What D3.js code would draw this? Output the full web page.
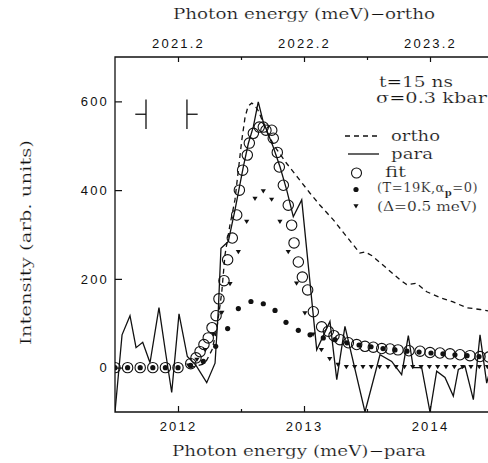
<!DOCTYPE html>
<html>
<head>
<meta charset="utf-8">
<script src="https://cdn.jsdelivr.net/npm/d3@7/dist/d3.min.js"></script>
<style>
  body { margin: 0; background: #fff; }
  svg { display: block; }
  .serif { font-family: 'DejaVu Serif', serif; stroke: #fff; stroke-width: 0.2px; }
</style>
</head>
<body>
<div id="container"></div>
<script>
/* DATA  (energy in meV on the para scale, intensity in arb. units) */
const para = [
  [2011.500,-100],[2011.556,74],[2011.619,117],[2011.667,45],[2011.720,57],[2011.778,11],
  [2011.849,135],[2011.902,33],[2011.950,-56],[2012.008,121],[2012.074,25],[2012.143,5],
  [2012.228,-34],[2012.294,10],[2012.320,130],[2012.341,269],[2012.399,284],[2012.452,355],
  [2012.518,452],[2012.558,505],[2012.598,543],[2012.637,599],[2012.677,553],[2012.704,535],
  [2012.756,497],[2012.810,452],[2012.863,400],[2012.915,340],[2012.982,378],[2013.101,40],
  [2013.206,104],[2013.260,-27],[2013.325,93],[2013.484,-100],[2013.603,29],[2013.696,14],
  [2013.775,-16],[2013.828,72],[2013.867,0],[2013.934,0],[2014.000,-100],[2014.053,-8],
  [2014.119,-22],[2014.185,-64],[2014.225,-4],[2014.278,3],[2014.344,-72],[2014.397,74],
  [2014.450,-35],[2014.500,20]
];

const ortho = [
  [2012.095,0],[2012.214,9],[2012.270,40],[2012.307,85],[2012.347,169],[2012.373,254],
  [2012.412,321],[2012.452,378],[2012.479,445],[2012.506,512],[2012.532,564],[2012.556,589],
  [2012.585,596],[2012.603,593],[2012.635,580],[2012.675,553],[2012.714,526],[2012.770,497],
  [2012.863,460],[2012.968,422],[2013.048,393],[2013.127,366],[2013.233,333],[2013.339,295],
  [2013.444,258],[2013.484,261],[2013.540,252],[2013.656,224],[2013.762,198],[2013.815,187],
  [2013.894,190],[2013.974,171],[2014.079,158],[2014.183,148],[2014.291,135],[2014.397,131],
  [2014.500,126]
];

const fit = [
  [2011.5,0],[2011.6,0],[2011.7,0],[2011.8,0],[2011.9,0],[2012.0,0],
  [2012.101,9],[2012.143,22],[2012.175,36],[2012.206,52],[2012.240,67],[2012.270,90],
  [2012.302,117],[2012.325,155],[2012.365,196],[2012.394,243],[2012.431,292],[2012.466,344],
  [2012.487,400],[2012.513,445],[2012.550,479],[2012.566,506],[2012.598,528],[2012.645,542],
  [2012.677,542],[2012.698,535],[2012.744,535],[2012.756,517],[2012.788,485],[2012.804,452],
  [2012.836,411],[2012.875,366],[2012.902,321],[2012.921,281],[2012.955,238],[2012.987,204],
  [2013.029,175],[2013.074,126],[2013.140,92],[2013.193,82],[2013.238,72],[2013.286,63],
  [2013.352,56],[2013.418,52],[2013.484,48],[2013.550,46],[2013.617,43],[2013.683,42],
  [2013.746,40],[2013.833,38],[2013.921,37],[2014.000,34],[2014.079,33],[2014.159,31],
  [2014.238,29],[2014.317,27],[2014.397,25],[2014.468,24]
];

const fitT19 = [
  [2011.5,0],[2011.6,0],[2011.7,0],[2011.8,0],[2011.9,0],[2012.0,0],[2012.1,5],
  [2012.201,14],[2012.299,48],[2012.394,88],[2012.479,133],[2012.579,149],[2012.677,144],
  [2012.770,129],[2012.857,102],[2012.955,84],[2013.048,74],[2013.153,67],[2013.246,63],
  [2013.341,56],[2013.437,51],[2013.532,47],[2013.627,43],[2013.722,40],[2013.817,37],
  [2013.913,35],[2014.008,33],[2014.103,31],[2014.198,29],[2014.294,27],[2014.389,25],
  [2014.484,24]
];

const fitDelta = [
  [2012.084,5],[2012.150,18],[2012.216,40],[2012.282,75],[2012.348,124],[2012.413,189],
  [2012.479,261],[2012.545,329],[2012.611,381],[2012.677,398],[2012.743,379],[2012.809,329],
  [2012.875,261],[2012.941,190],[2013.007,123],[2013.072,75],[2013.138,40],[2013.204,20],
  [2013.270,7],[2013.336,2],[2013.402,2],[2013.468,2],[2013.534,2],[2013.600,2],
  [2013.666,2],[2013.731,2],[2013.797,2],[2013.863,2],[2013.929,2],[2013.995,2],
  [2014.061,2],[2014.127,2],[2014.193,2],[2014.259,2],[2014.325,2],[2014.391,2],[2014.456,2]
];

// spectral resolution marks ( -|  and  |- )
const resMarks = [[2011.746, -1], [2012.071, 1]];
const resLevel = 571, resHalf = 33, resArm = 0.085;

const xTicksPara  = [2012, 2013, 2014];
const xMinorPara  = [2012.5, 2013.5];
const xTicksOrtho = [2021.2, 2022.2, 2023.2];
const xMinorOrtho = [2021.7, 2022.7];
const yTicks      = [0, 200, 400, 600];
const orthoShift  = 9.2;

/* LAYOUT */
const margin = {top: 57, left: 115},
      width = 378, height = 355;

const svg = d3.select("#container")
  .append("svg")
  .attr("width", 488)
  .attr("height", 463);

const g = svg.append("g")
  .attr("transform", "translate(" + margin.left + "," + margin.top + ")");

/* SCALES */
const xScale = d3.scaleLinear().domain([2011.5, 2014.5]).range([0, width]);
const xTop = d3.scaleLinear().domain([2011.5 + orthoShift, 2014.5 + orthoShift]).range([0, width]);
const yScale = d3.scaleLinear().domain([-100, 700]).range([height, 0]);

const tickFont = "'Liberation Sans', Arial, sans-serif";

function styleAxis(sel) {
  sel.select(".domain").remove();
  sel.selectAll("line").attr("stroke", "#111").attr("stroke-width", 1.2);
  sel.selectAll("text")
    .attr("fill", "#111")
    .style("font-family", tickFont)
    .style("font-size", "13px")
    .style("letter-spacing", "2.2px");
}

// bottom axis
g.append("g").attr("transform", "translate(0," + height + ")")
  .call(d3.axisBottom(xScale).tickValues(xTicksPara).tickFormat(d3.format("d"))
    .tickSize(-6).tickSizeOuter(0).tickPadding(10))
  .call(styleAxis);
g.append("g").attr("transform", "translate(0," + height + ")")
  .call(d3.axisBottom(xScale).tickValues(xMinorPara).tickFormat("").tickSize(-3).tickSizeOuter(0))
  .call(styleAxis);

// top axis
g.append("g")
  .call(d3.axisTop(xTop).tickValues(xTicksOrtho).tickFormat(d3.format(".1f"))
    .tickSize(-5).tickSizeOuter(0).tickPadding(9))
  .call(styleAxis);
g.append("g")
  .call(d3.axisTop(xTop).tickValues(xMinorOrtho).tickFormat("").tickSize(-3).tickSizeOuter(0))
  .call(styleAxis);

// left axis
g.append("g")
  .call(d3.axisLeft(yScale).tickValues(yTicks).tickSize(-7).tickSizeOuter(0).tickPadding(6))
  .call(styleAxis);

// frame (right side lies outside the picture)
g.append("path")
  .attr("d", "M" + (width + 10) + ",0H0V" + height + "H" + (width + 10))
  .attr("fill", "none").attr("stroke", "#111").attr("stroke-width", 1.3);

/* AXIS TITLES */
svg.append("text").attr("class", "serif")
  .attr("x", 173).attr("y", 19)
  .attr("textLength", 262).attr("lengthAdjust", "spacingAndGlyphs")
  .style("font-size", "14.5px").attr("fill", "#111")
  .text("Photon energy (meV)\u2212ortho");

svg.append("text").attr("class", "serif")
  .attr("x", 172).attr("y", 456)
  .attr("textLength", 254).attr("lengthAdjust", "spacingAndGlyphs")
  .style("font-size", "14.5px").attr("fill", "#111")
  .text("Photon energy (meV)\u2212para");

svg.append("text").attr("class", "serif")
  .attr("transform", "translate(31,345) rotate(-90)")
  .attr("textLength", 205).attr("lengthAdjust", "spacingAndGlyphs")
  .style("font-size", "14.5px").attr("fill", "#111")
  .text("Intensity (arb. units)");

/* MARKS */
svg.append("clipPath").attr("id", "plotclip")
  .append("rect").attr("x", 0).attr("y", -8).attr("width", width + 20).attr("height", height + 8);

const plot = g.append("g").attr("clip-path", "url(#plotclip)");

const line = d3.line().x(d => xScale(d[0])).y(d => yScale(d[1]));

plot.append("path").datum(ortho)
  .attr("d", line).attr("fill", "none")
  .attr("stroke", "#111").attr("stroke-width", 1.3).attr("stroke-dasharray", "5,4");

plot.append("path").datum(para)
  .attr("d", line).attr("fill", "none")
  .attr("stroke", "#111").attr("stroke-width", 1.3).attr("stroke-linejoin", "miter");

plot.selectAll("circle.fit")
  .data(fit)
  .join("circle")
  .attr("class", "fit")
  .attr("cx", d => xScale(d[0]))
  .attr("cy", d => yScale(d[1]))
  .attr("r", 5.2)
  .attr("fill", "none")
  .attr("stroke", "#111").attr("stroke-width", 1.1);

plot.selectAll("circle.t19")
  .data(fitT19)
  .join("circle")
  .attr("class", "t19")
  .attr("cx", d => xScale(d[0]))
  .attr("cy", d => yScale(d[1]))
  .attr("r", 2.6)
  .attr("fill", "#111");

const tri = "M-2.6,-1.8L2.6,-1.8L0,2.4Z";
plot.selectAll("path.delta")
  .data(fitDelta)
  .join("path")
  .attr("class", "delta")
  .attr("d", tri)
  .attr("transform", d => "translate(" + xScale(d[0]) + "," + yScale(d[1]) + ")")
  .attr("fill", "#111");

// resolution marks
resMarks.forEach(([e, dir]) => {
  g.append("line")
    .attr("x1", xScale(e)).attr("x2", xScale(e))
    .attr("y1", yScale(resLevel + resHalf)).attr("y2", yScale(resLevel - resHalf))
    .attr("stroke", "#111").attr("stroke-width", 1.3);
  g.append("line")
    .attr("x1", xScale(e)).attr("x2", xScale(e + dir * resArm))
    .attr("y1", yScale(resLevel)).attr("y2", yScale(resLevel))
    .attr("stroke", "#111").attr("stroke-width", 1.3);
});

/* LEGEND */
const leg = svg.append("g").attr("fill", "#111").style("font-size", "14.5px");

leg.append("text").attr("class", "serif").attr("x", 379).attr("y", 87)
  .attr("textLength", 74).attr("lengthAdjust", "spacingAndGlyphs").text("t=15 ns");
leg.append("text").attr("class", "serif").attr("x", 376).attr("y", 103)
  .attr("textLength", 111).attr("lengthAdjust", "spacingAndGlyphs").text("\u03c3=0.3 kbar");

leg.append("line").attr("x1", 345).attr("x2", 378).attr("y1", 136).attr("y2", 136)
  .attr("stroke", "#111").attr("stroke-width", 1.3).attr("stroke-dasharray", "5,4");
leg.append("text").attr("class", "serif").attr("x", 391).attr("y", 141)
  .attr("textLength", 49).attr("lengthAdjust", "spacingAndGlyphs").text("ortho");

leg.append("line").attr("x1", 348).attr("x2", 379).attr("y1", 154).attr("y2", 154)
  .attr("stroke", "#111").attr("stroke-width", 1.3);
leg.append("text").attr("class", "serif").attr("x", 391).attr("y", 159)
  .attr("textLength", 42).attr("lengthAdjust", "spacingAndGlyphs").text("para");

leg.append("circle").attr("cx", 356.5).attr("cy", 173).attr("r", 5)
  .attr("fill", "none").attr("stroke", "#111").attr("stroke-width", 1.1);
leg.append("text").attr("class", "serif").attr("x", 385).attr("y", 177)
  .attr("textLength", 21).attr("lengthAdjust", "spacingAndGlyphs").text("fit");

leg.append("circle").attr("cx", 356).attr("cy", 189.5).attr("r", 2.6);
const tLab = leg.append("text").attr("class", "serif").attr("x", 377).attr("y", 192)
  .style("font-size", "13px").style("letter-spacing", "0.5px");
tLab.append("tspan").text("(T=19K,\u03b1");
tLab.append("tspan").attr("dy", 3.5).style("font-size", "10px").style("font-weight", "bold").text("p");
tLab.append("tspan").attr("dy", -3.5).text("=0)");

leg.append("path").attr("d", tri).attr("transform", "translate(356,206)");
leg.append("text").attr("class", "serif").attr("x", 377).attr("y", 211)
  .attr("textLength", 100).attr("lengthAdjust", "spacingAndGlyphs")
  .style("font-size", "13px").text("(\u0394=0.5 meV)");
</script>
</body>
</html>
